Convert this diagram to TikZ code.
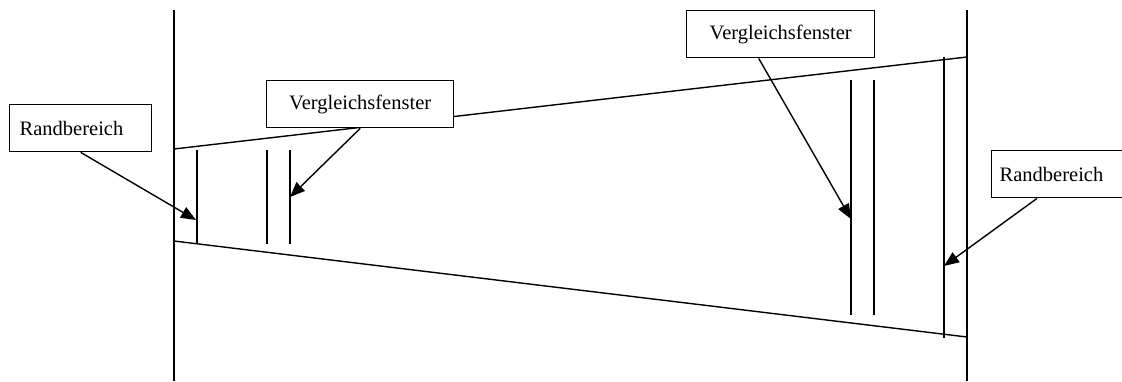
\documentclass[tikz,border=0pt]{standalone}
\usepackage{fontspec}
\setmainfont{Liberation Serif}
\usetikzlibrary{arrows.meta,calc}
\begin{document}
\begin{tikzpicture}[x=1pt,y=-1pt,line width=1.4pt,
  lbl/.style={draw,fill=white,line width=1.4pt,anchor=north west,minimum height=47pt,
    font=\fontsize{20.5}{24}\selectfont},
  ptr/.style={-{Triangle[length=15pt,width=12pt]},line width=1.4pt}]
\clip (0,0) rectangle (1122,381);
\fill[white] (0,0) rectangle (1122,381);
% frame lines
\draw (174,10) -- (174,381);
\draw (967,10) -- (967,381);
\draw (174,149) -- (967,57);
\draw (174,241) -- (967,337);
% windows
\draw (197,150) -- (197,243);
\draw (267,150) -- (267,244);
\draw (290,150) -- (290,244);
\draw (851,80) -- (851,315);
\draw (874,80) -- (874,315);
\draw (944,57) -- (944,338);
% labels
\node[lbl,minimum width=142pt,text width=122pt,inner xsep=10pt,align=left] (rb1) at (9,104) {Randbereich};
\node[lbl,minimum width=187pt,align=center] (vf1) at (266,80) {Vergleichsfenster};
\node[lbl,minimum width=188pt,align=center] (vf2) at (686,10) {Vergleichsfenster};
\node[lbl,minimum width=142pt,text width=126pt,inner xsep=8pt,align=left] (rb2) at (991,150) {Randbereich};
% arrow tips
\coordinate (t1) at (196,220);
\coordinate (t2) at (290,197);
\coordinate (t3) at (851,219);
\coordinate (t4) at (944,266);
\draw[ptr] (rb1.south) -- (t1);
\draw[ptr] (vf1.south) -- (t2);
\draw[ptr] ($(vf2.south)+(-22,0)$) -- (t3);
\draw[ptr] ($(rb2.south west)+(46,0)$) -- (t4);
\end{tikzpicture}
\end{document}
